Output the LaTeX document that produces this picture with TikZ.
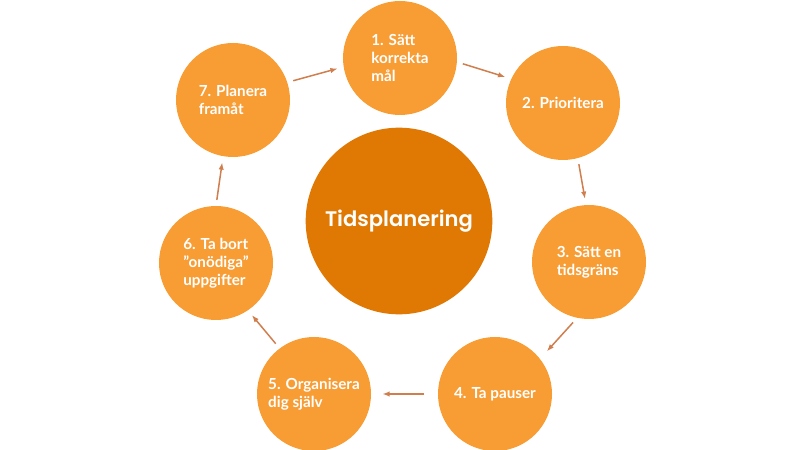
\documentclass[tikz,border=0pt]{standalone}
\usepackage{fontspec}
\setmainfont{Lato}
\newfontfamily\titlefont{Poppins SemiBold}
\usetikzlibrary{arrows.meta}
\definecolor{tpcircle}{RGB}{248,156,52}
\definecolor{tpcentre}{RGB}{224,120,4}
\definecolor{tparrow}{RGB}{208,126,78}

\begin{document}
\begin{tikzpicture}[x=0.3mm, y=-0.3mm,
  stepnode/.style={circle, fill=tpcircle, minimum size=34.2mm, inner sep=0pt,
    text=white, font=\bfseries\fontsize{13}{15.5}\selectfont, align=left},
  flow/.style={-{Latex[length=2.2mm, width=1.6mm]}, tparrow, line width=0.45mm,
    shorten <=1.8mm, shorten >=1.8mm}]
\useasboundingbox (0,0) rectangle (800,450);

% Centre
\node[circle, fill=tpcentre, minimum size=56mm, inner sep=0pt, text=white,
  font=\titlefont\fontsize{18}{22}\selectfont] (centre) at (399,221) {Tidsplanering};

% Steps
\node[stepnode] (s1) at (400,58) {1. Sätt\\korrekta\\mål};
\node[stepnode] (s2) at (563,103) {2. Prioritera};
\node[stepnode] (s3) at (589,262) {3. Sätt en\\tidsgräns};
\node[stepnode] (s4) at (495,394) {4. Ta pauser};
\node[stepnode] (s5) at (314,394) {5. Organisera\\dig själv};
\node[stepnode] (s6) at (216,263) {6. Ta bort\\"onödiga"\\uppgifter};
\node[stepnode] (s7) at (233,100) {7. Planera\\framåt};

% Arrows round the cycle
\draw[flow] (s7.18) -- (s1.-171);
\draw[flow] (s1.-4) -- (s2.155);
\draw[flow] (s2.-75) -- (s3.93);
\draw[flow, shorten >=3mm] (s3.-102) -- (s4.38);
\draw[flow, shorten <=4mm, shorten >=3.3mm] (s4.180) -- (s5.0);
\draw[flow] (s5.127) -- (s6.-56);
\draw[flow] (s6.90) -- (s7.-100);
\end{tikzpicture}
\end{document}
